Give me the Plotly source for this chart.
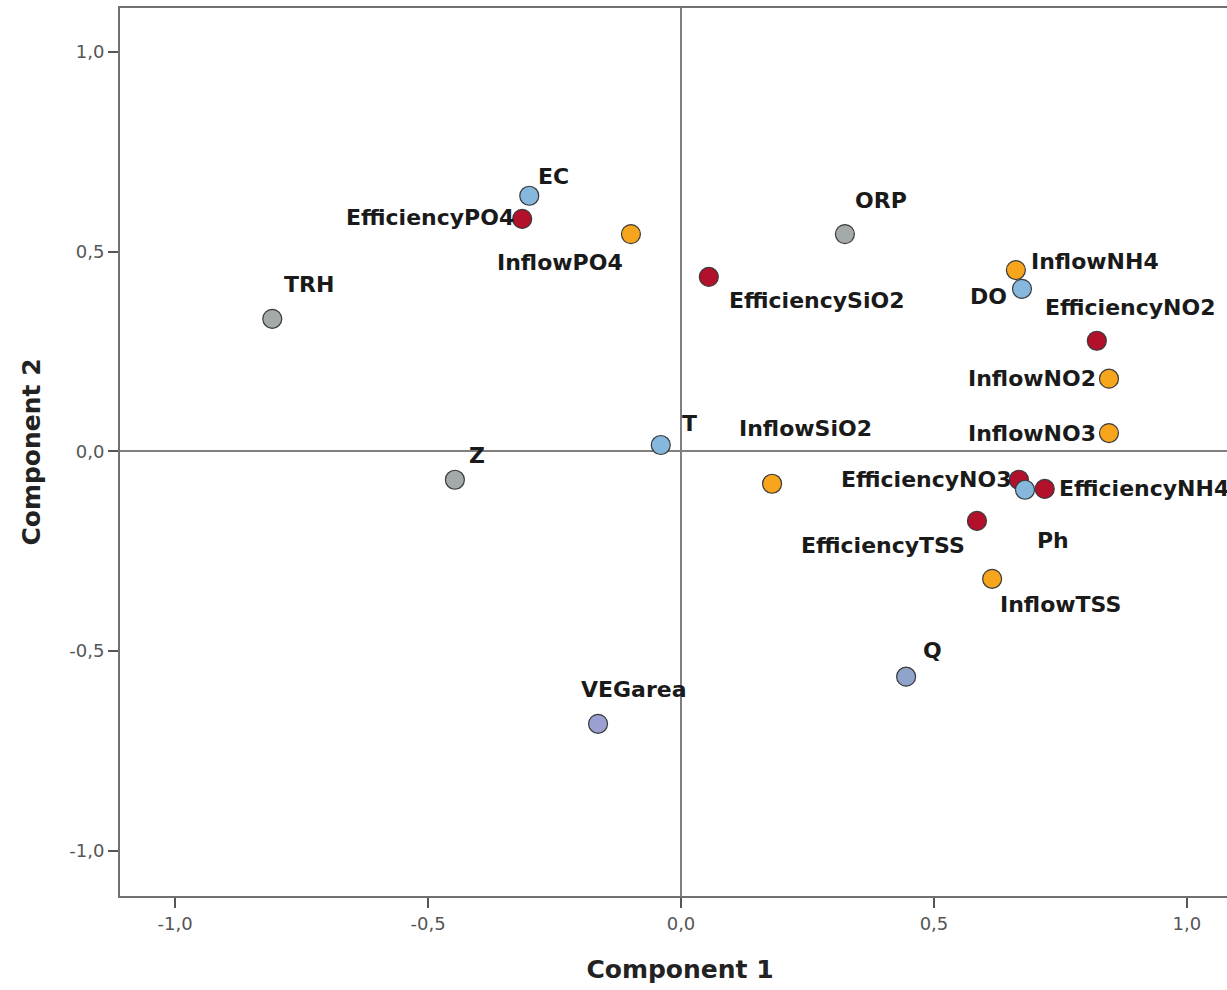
import plotly.graph_objects as go

names = ["EC", "EfficiencyPO4", "InflowPO4", "TRH", "EfficiencySiO2", "ORP",
         "InflowNH4", "DO", "EfficiencyNO2", "InflowNO2", "InflowNO3", "T", "Z",
         "InflowSiO2", "EfficiencyNO3", "Ph", "EfficiencyNH4", "EfficiencyTSS",
         "InflowTSS", "Q", "VEGarea"]
comp1 = [-0.300, -0.314, -0.099, -0.808, 0.055, 0.324,
         0.662, 0.674, 0.822, 0.846, 0.846, -0.040, -0.447,
         0.180, 0.668, 0.680, 0.719, 0.585,
         0.615, 0.445, -0.164]
comp2 = [0.640, 0.582, 0.544, 0.332, 0.437, 0.544,
         0.454, 0.407, 0.277, 0.182, 0.046, 0.016, -0.071,
         -0.081, -0.071, -0.096, -0.094, -0.174,
         -0.319, -0.564, -0.682]
groups = ["blue", "eff", "inflow", "gray", "eff", "gray",
          "inflow", "blue", "eff", "inflow", "inflow", "blue", "gray",
          "inflow", "eff", "blue", "eff", "eff",
          "inflow", "slate", "violet"]

group_colors = {"blue": "#86b8de", "eff": "#b3102c", "inflow": "#f6a51c",
                "gray": "#a4a9a9", "slate": "#8fa4cb", "violet": "#9c9fd2"}

# label placement: (xanchor, xshift px, yshift px)
label_pos = {
    "EC": ("left", 7, 19), "EfficiencyPO4": ("right", -6, 1),
    "InflowPO4": ("right", -6, -28), "TRH": ("left", 10, 34),
    "EfficiencySiO2": ("left", 18, -24), "ORP": ("left", 8, 34),
    "InflowNH4": ("left", 13, 9), "DO": ("right", -13, -8),
    "EfficiencyNO2": ("left", -54, 33), "InflowNO2": ("right", -11, 0),
    "InflowNO3": ("right", -11, 0), "T": ("left", 19, 22),
    "Z": ("left", 12, 24), "InflowSiO2": ("left", -35, 55),
    "EfficiencyNO3": ("right", -5, 0), "Ph": ("left", 10, -51),
    "EfficiencyNH4": ("left", 12, 0), "EfficiencyTSS": ("right", -10, -25),
    "InflowTSS": ("left", 6, -26), "Q": ("left", 15, 26),
    "VEGarea": ("left", -19, 34),
}

fig = go.Figure()
fig.add_trace(go.Scatter(
    x=comp1, y=comp2, mode="markers", text=names, hoverinfo="text",
    marker=dict(size=19, color=[group_colors[g] for g in groups],
                line=dict(color="#3a3a3a", width=1.2)),
    showlegend=False, cliponaxis=False))

for n, x, y in zip(names, comp1, comp2):
    xa, dx, dy = label_pos[n]
    fig.add_annotation(x=x, y=y, text="<b>%s</b>" % n, showarrow=False,
                       xanchor=xa, yanchor="middle", xshift=dx, yshift=dy,
                       font=dict(family="DejaVu Sans", size=22, color="#1a1a1a"))

tickvals = [-1.0, -0.5, 0.0, 0.5, 1.0]
ticktext = ["-1,0", "-0,5", "0,0", "0,5", "1,0"]

axis_common = dict(showgrid=False, zeroline=True, zerolinecolor="#7f7f7f",
                   zerolinewidth=2, showline=True, linecolor="#707070",
                   linewidth=2, ticks="outside", ticklen=10, tickwidth=2,
                   tickcolor="#555555", tickvals=tickvals, ticktext=ticktext,
                   automargin=False,
                   tickfont=dict(family="DejaVu Sans", size=18, color="#555555"))

# figure is slightly wider than the window: the right side of the frame is cropped
fig.update_layout(
    width=1240, height=990,
    margin=dict(l=120, r=0, t=8, b=94),
    paper_bgcolor="white", plot_bgcolor="white",
    xaxis=dict(range=[-1.109, 1.105], mirror=True,
               title=dict(text="<b>Component 1</b>", standoff=28,
                          font=dict(family="DejaVu Sans", size=25, color="#222222")),
               **axis_common),
    yaxis=dict(range=[-1.113, 1.110], mirror=False,
               title=dict(text="<b>Component 2</b>", standoff=22,
                          font=dict(family="DejaVu Sans", size=25, color="#222222")),
               **axis_common),
)

fig.write_html("out.html", config={"displayModeBar": False},
               post_script="document.body.style.margin='0';document.body.style.overflow='hidden';")
